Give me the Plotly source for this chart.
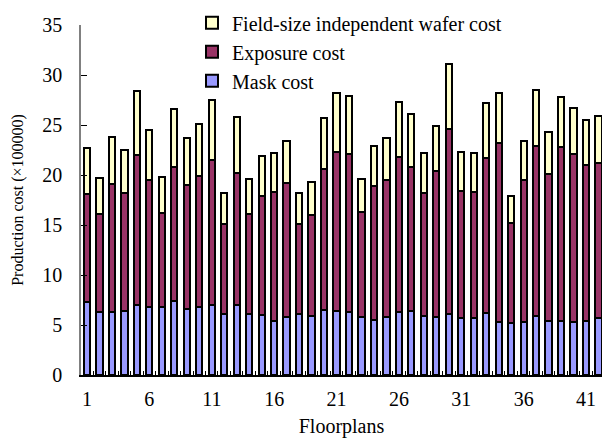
import plotly.graph_objects as go

floorplans = list(range(1, 43))
total = [22.67, 19.67, 23.8, 22.47, 28.4, 24.53, 19.83, 26.6, 23.7, 25.13, 27.47, 18.23, 25.8, 19.6,
         21.9, 22.2, 23.43, 18.23, 19.3, 25.73, 28.23, 27.87, 19.6, 22.9, 23.67, 27.27, 26.1, 22.17,
         24.93, 31.07, 22.27, 22.17, 27.23, 28.17, 17.93, 23.37, 28.47, 24.27, 27.8, 26.67, 25.53, 25.9]
exposure_top = [18.07, 16.13, 19.13, 18.23, 22.03, 19.47, 16.23, 20.77, 19.0, 19.87, 21.53, 15.13, 20.2, 16.07,
                17.93, 18.27, 19.17, 15.1, 16.0, 20.6, 22.27, 22.13, 16.33, 18.9, 19.5, 21.77, 20.77, 18.23,
                20.43, 24.6, 18.4, 18.3, 21.67, 23.23, 15.23, 19.53, 22.9, 20.07, 22.83, 22.1, 21.03, 21.17]
mask_cost = [7.33, 6.27, 6.33, 6.4, 6.97, 6.83, 6.77, 7.4, 6.6, 6.8, 6.97, 6.07, 7.03, 6.13,
             5.97, 5.43, 5.77, 6.07, 5.93, 6.5, 6.4, 6.27, 5.8, 5.47, 5.83, 6.27, 6.37, 5.9,
             5.83, 6.13, 5.67, 5.7, 6.23, 5.3, 5.17, 5.27, 5.93, 5.4, 5.37, 5.3, 5.4, 5.7]
exposure_cost = [round(e - m, 2) for e, m in zip(exposure_top, mask_cost)]
wafer_cost = [round(t - e, 2) for t, e in zip(total, exposure_top)]
tick_labels = [1, 6, 11, 16, 21, 26, 31, 36, 41]

FONT = "Liberation Serif, Times New Roman, serif"
line = dict(color="black", width=2)

fig = go.Figure()
fig.add_trace(go.Bar(x=floorplans, y=mask_cost, name="Mask cost",
                     marker=dict(color="#9999FF", line=line), width=0.5))
fig.add_trace(go.Bar(x=floorplans, y=exposure_cost, name="Exposure cost",
                     marker=dict(color="#993366", line=line), width=0.5))
fig.add_trace(go.Bar(x=floorplans, y=wafer_cost, name="Field-size independent wafer cost",
                     marker=dict(color="#FFFFCC", line=line), width=0.5))

fig.update_layout(
    barmode="stack",
    width=602, height=438,
    margin=dict(l=81, r=0, t=25, b=63),
    paper_bgcolor="white", plot_bgcolor="white",
    font=dict(family=FONT, size=20, color="black"),
    showlegend=True,
    legend=dict(x=0.213, y=1.062, xanchor="left", yanchor="top", traceorder="reversed",
                bgcolor="rgba(0,0,0,0)", font=dict(size=20), itemwidth=30, tracegroupgap=0),
    xaxis=dict(range=[0.52, 42.28], tickvals=tick_labels, ticktext=[str(t) for t in tick_labels],
               ticks="", showgrid=False, showline=True, linecolor="black", linewidth=1.5,
               automargin=False,
               title=dict(text="Floorplans", standoff=11, font=dict(size=20)),
               minor=dict(ticks="inside", tick0=0.5, dtick=1, ticklen=4, tickcolor="black", showgrid=False),
               ticklabelstandoff=5),
    yaxis=dict(range=[0, 35], tickvals=[0, 5, 10, 15, 20, 25, 30, 35], ticks="inside", ticklen=6,
               tickcolor="black", showgrid=False, showline=True, linecolor="#808080", linewidth=1.5,
               zeroline=False, automargin=False, ticklabelstandoff=13,
               title=dict(text="Production cost (×100000)", standoff=15, font=dict(size=16))),
)

fig.write_html("out.html", config={"displayModeBar": False},
               post_script="document.body.style.margin='0';document.body.style.overflow='hidden';")
